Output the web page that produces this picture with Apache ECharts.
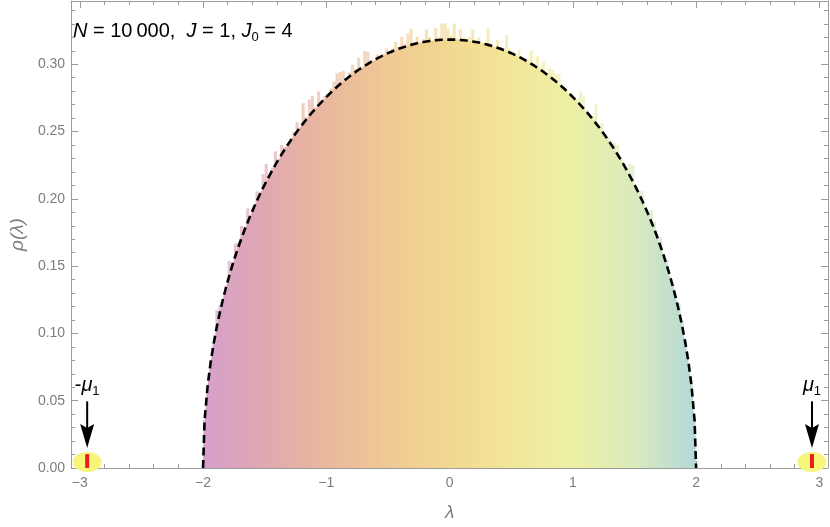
<!DOCTYPE html>
<html><head><meta charset="utf-8">
<script src="https://cdn.jsdelivr.net/npm/echarts@6/dist/echarts.min.js"></script>
<style>html,body{margin:0;padding:0;background:#fff}#c{width:830px;height:527px}</style>
</head><body><div id="c"></div>
<script>
// ---------------- data ----------------
const binStart = -2;
const binWidth = 0.025;
const histHeights = [
0.0355,0.0594,0.0800,0.0921,0.1173,0.1210,0.1237,0.1356,0.1538,0.1525,
0.1667,0.1674,0.1799,0.1790,0.1928,0.1863,0.1946,0.2057,0.2026,0.2183,
0.2258,0.2151,0.2233,0.2354,0.2283,0.2400,0.2387,0.2382,0.2446,0.2499,
0.2571,0.2522,0.2711,0.2610,0.2738,0.2765,0.2681,0.2797,0.2701,0.2765,
0.2758,0.2820,0.2872,0.2933,0.2943,0.2952,0.2901,0.2939,0.2996,0.2963,
0.3049,0.2964,0.3099,0.3093,0.3027,0.3010,0.3073,0.3045,0.3076,0.3117,
0.3067,0.3117,0.3166,0.3125,0.3203,0.3150,0.3228,0.3264,0.3160,0.3206,
0.3151,0.3185,0.3259,0.3203,0.3156,0.3268,0.3200,0.3302,0.3303,0.3263,
0.3213,0.3303,0.3192,0.3260,0.3198,0.3166,0.3203,0.3259,0.3145,0.3201,
0.3166,0.3130,0.3264,0.3158,0.3120,0.3183,0.3125,0.3086,0.3217,0.3117,
0.3097,0.3056,0.3105,0.3053,0.3010,0.3037,0.3103,0.3009,0.3059,0.2979,
0.3018,0.2916,0.2969,0.2961,0.2932,0.2923,0.2823,0.2822,0.2770,0.2788,
0.2735,0.2741,0.2797,0.2761,0.2655,0.2598,0.2620,0.2701,0.2542,0.2561,
0.2459,0.2456,0.2392,0.2417,0.2400,0.2313,0.2244,0.2233,0.2261,0.2248,
0.2073,0.2056,0.2057,0.1926,0.1903,0.1918,0.1830,0.1699,0.1714,0.1587,
0.1545,0.1418,0.1366,0.1247,0.1225,0.1093,0.0961,0.0780,0.0624,0.0355
];
// semicircle (dashed) curve: value at each bin centre, with 0 at both ends
const curveY = [0,
0.0355,0.0614,0.0790,0.0931,0.1053,0.1160,0.1257,0.1346,0.1428,0.1505,
0.1577,0.1644,0.1709,0.1770,0.1828,0.1883,0.1936,0.1987,0.2036,0.2083,
0.2128,0.2171,0.2213,0.2254,0.2293,0.2330,0.2367,0.2402,0.2436,0.2469,
0.2501,0.2532,0.2561,0.2590,0.2618,0.2645,0.2671,0.2697,0.2721,0.2745,
0.2768,0.2790,0.2812,0.2833,0.2853,0.2872,0.2891,0.2909,0.2926,0.2943,
0.2959,0.2974,0.2989,0.3003,0.3017,0.3030,0.3043,0.3055,0.3066,0.3077,
0.3087,0.3097,0.3106,0.3115,0.3123,0.3130,0.3138,0.3144,0.3150,0.3156,
0.3161,0.3165,0.3169,0.3173,0.3176,0.3178,0.3180,0.3182,0.3183,0.3183,
0.3183,0.3183,0.3182,0.3180,0.3178,0.3176,0.3173,0.3169,0.3165,0.3161,
0.3156,0.3150,0.3144,0.3138,0.3130,0.3123,0.3115,0.3106,0.3097,0.3087,
0.3077,0.3066,0.3055,0.3043,0.3030,0.3017,0.3003,0.2989,0.2974,0.2959,
0.2943,0.2926,0.2909,0.2891,0.2872,0.2853,0.2833,0.2812,0.2790,0.2768,
0.2745,0.2721,0.2697,0.2671,0.2645,0.2618,0.2590,0.2561,0.2532,0.2501,
0.2469,0.2436,0.2402,0.2367,0.2330,0.2293,0.2254,0.2213,0.2171,0.2128,
0.2083,0.2036,0.1987,0.1936,0.1883,0.1828,0.1770,0.1709,0.1644,0.1577,
0.1505,0.1428,0.1346,0.1257,0.1160,0.1053,0.0931,0.0790,0.0614,0.0355,
0];
const xMajorTicks = [-3,-2,-1,0,1,2,3];
const xMinorTicks = [-3,-2.8,-2.6,-2.4,-2.2,-2,-1.8,-1.6,-1.4,-1.2,-1,-0.8,-0.6,-0.4,-0.2,0,
  0.2,0.4,0.6,0.8,1,1.2,1.4,1.6,1.8,2,2.2,2.4,2.6,2.8,3];
const yMajorTicks = [0,0.05,0.1,0.15,0.2,0.25,0.3];
const yMinorTicks = [0,0.01,0.02,0.03,0.04,0.05,0.06,0.07,0.08,0.09,0.1,0.11,0.12,0.13,0.14,0.15,0.16,0.17,
  0.18,0.19,0.2,0.21,0.22,0.23,0.24,0.25,0.26,0.27,0.28,0.29,0.3,0.31,0.32,0.33,0.34];
const outlierX = [-2.94, 2.94];
const outlierH = [0.0103, 0.0103];
const outlierLabels = ['{h|-}{m|μ}{s|1}', '{m|μ}{s|1}'];
const arrowTopY = 0.0495;
const arrowTipY = 0.0148;
const haloY = 0.0044;
const titleText = '{i|N} = 10\u2009000,  {i|J} = 1, {i|J}{s|0} = 4';

// ---------------- styling ----------------
const X_MIN = -3.07, X_MAX = 3.07, Y_MIN = 0, Y_MAX = 0.347;
const AX = '#9c9c9c', LB = '#7d7d7d';
const FONT = 'Liberation Sans, Arial, sans-serif';
const stops = [
  {offset:0, color:'#d69fcc'},
  {offset:0.125, color:'#e0a8b0'},
  {offset:0.25, color:'#e9b89e'},
  {offset:0.375, color:'#efc994'},
  {offset:0.5, color:'#f2d890'},
  {offset:0.625, color:'#f1e699'},
  {offset:0.75, color:'#edf0a5'},
  {offset:0.875, color:'#d9eabc'},
  {offset:1, color:'#b3d9d9'}
];

const histData = histHeights.map((h, i) => [binStart + i*binWidth, binStart + (i+1)*binWidth, h]);
const curveX = curveY.map((_, i) => i === 0 ? binStart : (i === curveY.length-1 ? -binStart : binStart + (i-0.5)*binWidth));
const curveData = curveX.map((x, i) => [x, curveY[i]]);
const outlierData = outlierX.map((x, i) => [x, outlierH[i]]);

function fmtX(v){ return v < 0 ? '\u2212' + Math.abs(v) : String(v); }

function xAxisDef(pos, ticks, len, showLabel, showLine){
  return {
    type:'value', position:pos, min:X_MIN, max:X_MAX,
    axisLine:{show:showLine, onZero:false, lineStyle:{color:AX, width:1}},
    axisTick:{show:true, inside:true, length:len, customValues:ticks, lineStyle:{color:AX, width:1}},
    axisLabel:{show:showLabel, customValues:ticks, formatter:fmtX, color:LB, fontSize:14, margin:8, fontFamily:FONT},
    splitLine:{show:false}, minorTick:{show:false}
  };
}
function yAxisDef(pos, ticks, len, showLabel, showLine){
  return {
    type:'value', position:pos, min:Y_MIN, max:Y_MAX,
    axisLine:{show:showLine, onZero:false, lineStyle:{color:AX, width:1}},
    axisTick:{show:true, inside:true, length:len, customValues:ticks, lineStyle:{color:AX, width:1}},
    axisLabel:{show:showLabel, customValues:ticks, formatter:v => v.toFixed(2), color:LB, fontSize:14, margin:6, fontFamily:FONT},
    splitLine:{show:false}, minorTick:{show:false}
  };
}

const xAxes = [
  xAxisDef('bottom', xMajorTicks, 7, true, true),
  xAxisDef('bottom', xMinorTicks, 4, false, false),
  xAxisDef('top', xMajorTicks, 7, false, true),
  xAxisDef('top', xMinorTicks, 4, false, false)
];
xAxes[0].name = 'λ';
xAxes[0].nameLocation = 'middle';
xAxes[0].nameGap = 35;
xAxes[0].nameTextStyle = {color:LB, fontSize:19, fontStyle:'italic', fontFamily:FONT};

const yAxes = [
  yAxisDef('left', yMajorTicks, 7, true, true),
  yAxisDef('left', yMinorTicks, 4, false, false),
  yAxisDef('right', yMajorTicks, 7, false, true),
  yAxisDef('right', yMinorTicks, 4, false, false)
];
yAxes[0].name = 'ρ(λ)';
yAxes[0].nameLocation = 'middle';
yAxes[0].nameGap = 39;
yAxes[0].nameTextStyle = {color:LB, fontSize:19, fontStyle:'italic', fontFamily:FONT};

const chart = echarts.init(document.getElementById('c'), null, {renderer:'canvas'});
chart.setOption({
  animation:false,
  backgroundColor:'#ffffff',
  grid:{left:65, right:2, top:1, bottom:55, containLabel:false},
  title:{
    text:titleText, left:73, top:19, padding:0,
    textStyle:{fontSize:20, color:'#000', fontWeight:'normal', fontFamily:FONT, lineHeight:25,
      rich:{
        i:{fontSize:20, fontStyle:'italic', color:'#000', fontFamily:FONT, lineHeight:25},
        s:{fontSize:13, color:'#000', fontFamily:FONT, lineHeight:14, verticalAlign:'bottom'}
      }}
  },
  xAxis:xAxes,
  yAxis:yAxes,
  series:[
    {
      type:'custom', xAxisIndex:0, yAxisIndex:0, z:1, silent:true,
      data:histData,
      renderItem:function(params, api){
        const p0 = api.coord([api.value(0), 0]);
        const p1 = api.coord([api.value(1), api.value(2)]);
        const gL = api.coord([binStart, 0])[0], gR = api.coord([-binStart, 0])[0];
        return {type:'rect',
          shape:{x:p0[0], y:p1[1], width:p1[0]-p0[0], height:p0[1]-p1[1]},
          style:{fill:new echarts.graphic.LinearGradient(gL, 0, gR, 0, stops, true), opacity:0.65}};
      }
    },
    {
      type:'line', xAxisIndex:0, yAxisIndex:0, z:3, silent:true,
      data:curveData, symbol:'none', showSymbol:false,
      lineStyle:{color:'#000', width:2.6, type:[8,4.5]},
      areaStyle:{color:new echarts.graphic.LinearGradient(0,0,1,0, stops), opacity:1}
    },
    {
      type:'custom', xAxisIndex:0, yAxisIndex:0, z:5, silent:true,
      data:outlierData,
      renderItem:function(params, api){
        const x = api.value(0), h = api.value(1);
        const base = api.coord([x, 0]);
        const top = api.coord([x, h]);
        const half = api.coord([x + 0.016, 0])[0] - base[0];
        const hc = api.coord([x, haloY]);
        const aTop = api.coord([x, arrowTopY]);
        const aTip = api.coord([x, arrowTipY]);
        return {type:'group', children:[
          {type:'ellipse', shape:{cx:hc[0], cy:hc[1], rx:14.5, ry:10}, style:{fill:'#f7f57a'}},
          {type:'rect', shape:{x:base[0]-half, y:top[1], width:2*half, height:base[1]-top[1]}, style:{fill:'#ee1a1a'}},
          {type:'line', shape:{x1:aTop[0], y1:aTop[1], x2:aTip[0], y2:aTip[1]-20}, style:{stroke:'#000', lineWidth:2}},
          {type:'polygon', shape:{points:[[aTip[0]-7, aTip[1]-24],[aTip[0], aTip[1]-20],[aTip[0]+7, aTip[1]-24],[aTip[0], aTip[1]]]}, style:{fill:'#000'}},
          {type:'text', x:aTop[0], y:aTop[1]-3, style:{
            text:outlierLabels[params.dataIndex], align:'center', verticalAlign:'bottom',
            fontSize:20, fill:'#000', fontFamily:FONT,
            rich:{
              h:{fontSize:20, fontFamily:FONT, lineHeight:25},
              m:{fontSize:20, fontStyle:'italic', fontFamily:FONT, lineHeight:25},
              s:{fontSize:13, fontFamily:FONT, lineHeight:14, verticalAlign:'bottom'}
            }}}
        ]};
      }
    }
  ]
});
</script>
</body></html>
